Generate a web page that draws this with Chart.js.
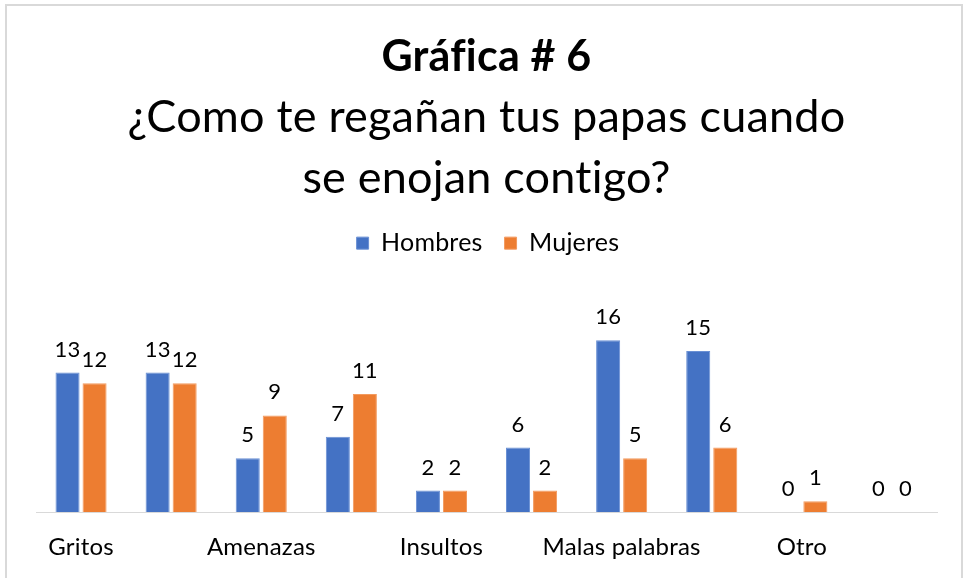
<!DOCTYPE html>
<html>
<head>
<meta charset="utf-8">
<script src="https://cdn.jsdelivr.net/npm/chart.js@4/dist/chart.umd.min.js"></script>
<style>
  html, body { margin: 0; padding: 0; background: #fff; overflow: hidden; }
  #frame { position: absolute; left: 5px; top: 4px; width: 958px; height: 600px; border: 2px solid #d9d9d9; box-sizing: border-box; }
  #wrap { position: absolute; left: 0; top: 0; width: 967px; height: 578px; overflow: hidden; }
</style>
</head>
<body>
<div id="frame"></div>
<div id="wrap"><canvas id="chart" width="967" height="584"></canvas></div>
<script>
const categories = ['Gritos', '', 'Amenazas', '', 'Insultos', '', 'Malas palabras', '', 'Otro', ''];
const hombres = [13, 13, 5, 7, 2, 6, 16, 15, 0, 0];
const mujeres = [12, 12, 9, 11, 2, 2, 5, 6, 1, 0];

// no ligatures (fi, ti) like the original font
const noLigatures = {
    id: 'noLigatures',
    beforeDraw(chart) {
        chart.ctx.letterSpacing = '0.2px';
    }
};

// draws the value above each bar
const valueLabels = {
    id: 'valueLabels',
    afterDatasetsDraw(chart) {
        const ctx = chart.ctx;
        ctx.save();
        ctx.font = '22px Lato';
        ctx.fillStyle = '#000';
        ctx.textAlign = 'center';
        ctx.textBaseline = 'bottom';
        chart.data.datasets.forEach((ds, i) => {
            chart.getDatasetMeta(i).data.forEach((bar, j) => {
                ctx.fillText(ds.data[j], bar.x, bar.y - 12);
            });
        });
        ctx.restore();
    }
};

new Chart(document.getElementById('chart'), {
    type: 'bar',
    data: {
        labels: categories,
        datasets: [
            {
                label: 'Hombres',
                data: hombres,
                backgroundColor: '#4472C4',
                borderColor: '#6a90d4',
                borderWidth: 1,
                categoryPercentage: 0.6,
                barPercentage: 0.89
            },
            {
                label: 'Mujeres',
                data: mujeres,
                backgroundColor: '#ED7D31',
                borderColor: '#f39a5e',
                borderWidth: 1,
                categoryPercentage: 0.6,
                barPercentage: 0.89
            }
        ]
    },
    options: {
        responsive: false,
        animation: false,
        layout: { padding: { left: 36, right: 30, bottom: 2 } },
        plugins: {
            title: {
                display: true,
                text: 'Gráfica # 6',
                color: '#000',
                font: { family: 'Lato', size: 43, weight: 'bold', lineHeight: 1.2 },
                padding: { top: 31, bottom: 0 }
            },
            subtitle: {
                display: true,
                text: ['¿Como te regañan tus papas cuando', 'se enojan contigo?'],
                color: '#000',
                font: { family: 'Lato', size: 45, lineHeight: 1.356 },
                padding: { top: 4, bottom: 0 }
            },
            legend: {
                position: 'top',
                labels: {
                    color: '#000',
                    font: { family: 'Lato', size: 25 },
                    boxWidth: 12,
                    boxHeight: 12,
                    padding: 22
                }
            },
            tooltip: { enabled: false }
        },
        scales: {
            x: {
                grid: { display: false, drawTicks: false },
                border: { color: '#d9d9d9', width: 1 },
                ticks: {
                    color: '#000',
                    font: { family: 'Lato', size: 24 },
                    autoSkip: false,
                    maxRotation: 0,
                    padding: 20.6
                }
            },
            y: {
                display: false,
                min: 0,
                max: 22.95
            }
        }
    },
    plugins: [noLigatures, valueLabels]
});
</script>
</body>
</html>
